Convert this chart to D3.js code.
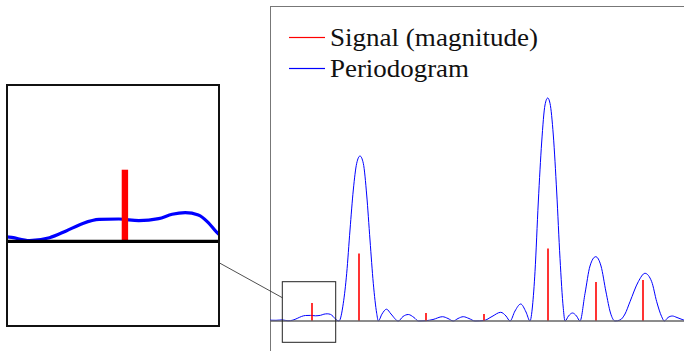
<!DOCTYPE html>
<html>
<head>
<meta charset="utf-8">
<script src="https://cdn.jsdelivr.net/npm/d3@7"></script>
<style>
  html, body { margin: 0; padding: 0; background: #fff; }
  svg { display: block; }
  text { font-family: "Liberation Serif", "DejaVu Serif", serif; }
</style>
</head>
<body>
<svg id="chart" width="684" height="351"></svg>
<script>
// ---- data (frequency bins, arbitrary power units) ----
const signalFreq = [21, 44.5, 78, 107, 139, 163, 186.5];
const signalMag  = [9, 33.75, 4, 3.5, 36.25, 19.5, 20.5];

const periodogramFreq = [0, 3, 6.1, 9, 11.5, 13.6, 15.7, 17.75, 20.25, 22.75, 25.25, 26.95, 28.6, 30.25, 31.5, 32.55,
  34.5, 36.65, 38.35, 40, 41.65, 43.35, 45, 46.65, 48.35, 50, 51.65, 53.35, 54.15,
  56, 58.25, 60.5, 64.15, 66.5, 69.15, 72, 74.25, 78, 81.5, 86.25, 89, 91.65, 94, 96.65, 99.5, 102.5,
  107, 111, 115.35, 118, 120, 122.5, 125.35, 128, 130, 131.25, 132.5, 134.15, 135.85, 137.5, 138.85, 140,
  141.65, 143.35, 145, 146.65, 147.5, 149.25, 151.25, 153.25, 155, 157.5, 160, 162.85, 165.5, 168, 170.25,
  172.5, 175, 177.5, 180, 184.15, 187.5, 190.85, 193.35, 195.85, 197.15, 199, 201.15, 203.5, 207];
const periodogramPower = [0.4, 0.35, 0.55, 0.1, 0.45, 1.3, 2.25, 2.75, 2.8, 2.6, 2.85, 3.4, 3.6, 3.3, 2.35, 1.15,
  0, 8.85, 23.85, 45.5, 65.5, 78.85, 82.5, 78.85, 63, 40.5, 18.85, 3.85, 0,
  3.5, 5.9, 3.5, 0, 2.25, 3.25, 1.75, 0, 0.15, 0.75, 2.15, 1.25, 0, 1.25, 2.15, 1.25, 0,
  0.25, 2.25, 4.35, 2.5, 0, 5, 8.5, 4.5, 0, 7.5, 24.65, 59.5, 89.5, 108, 111.5, 108.85,
  93, 64.5, 31.35, 6.35, 0, 2.5, 4, 2.5, 0, 13.75, 27.5, 32.15, 27.5, 14.5, 4,
  0, 0.5, 3.5, 9.65, 19.65, 23.85, 19.65, 9.65, 2.15, 0, 1.75, 2.5, 1.75, 0.4];

const legendLabels = ["Signal (magnitude)", "Periodogram"];
const signalColor = "#ff0000";
const periodogramColor = "#0000ff";

// zoomed region (data units)
const zoomX = [6.15, 32.85];
const zoomY = [-10.65, 19.65];

// ---- drawing ----
const svg = d3.select("#chart");
const x = d3.scaleLinear().domain([0, 207]).range([270, 684]);
const y = d3.scaleLinear().domain([0, 157]).range([321, 7]);

const pts = periodogramFreq.map((f, i) => [f, periodogramPower[i]]);
const sig = signalFreq.map((f, i) => [f, signalMag[i]]);

// main axis frame (extends beyond the visible window)
svg.append("rect")
  .attr("x", 270.5).attr("y", 6.5).attr("width", 600).attr("height", 420)
  .attr("fill", "none").style("stroke", "#777").style("stroke-width", 1);

// main periodogram
const line = d3.line().x(d => x(d[0])).y(d => y(d[1])).curve(d3.curveMonotoneX);
svg.append("path").datum(pts)
  .attr("d", line).attr("fill", "none")
  .style("stroke", periodogramColor).style("stroke-width", 1);

// signal stems
svg.append("g").selectAll("line").data(sig).join("line")
  .attr("x1", d => x(d[0])).attr("x2", d => x(d[0]))
  .attr("y1", y(0)).attr("y2", d => y(d[1]))
  .style("stroke", signalColor).style("stroke-width", 1.6);

// baseline
svg.append("line")
  .attr("x1", x(0)).attr("x2", 684).attr("y1", y(0)).attr("y2", y(0))
  .style("stroke", "#666").style("stroke-width", 1.3);

// zoom marker rectangle in main chart
svg.append("rect")
  .attr("x", x(zoomX[0])).attr("y", y(zoomY[1]))
  .attr("width", x(zoomX[1]) - x(zoomX[0])).attr("height", y(zoomY[0]) - y(zoomY[1]))
  .attr("fill", "none").style("stroke", "#222").style("stroke-width", 1);

// connector
svg.append("line")
  .attr("x1", 219).attr("y1", 262.7).attr("x2", x(zoomX[0])).attr("y2", 297.7)
  .style("stroke", "#222").style("stroke-width", 0.8);

// legend
const legend = svg.append("g");
const legY = [37.5, 68.5];
const legW = [208, 139];
const legC = [signalColor, periodogramColor];
legendLabels.forEach((lab, i) => {
  legend.append("rect")
    .attr("x", 289).attr("y", legY[i] - 0.6).attr("width", 36).attr("height", 1.2)
    .style("fill", legC[i]);
  legend.append("text")
    .attr("x", 330).attr("y", legY[i] + 8.5)
    .attr("font-size", 26).attr("fill", "#111")
    .attr("textLength", legW[i]).attr("lengthAdjust", "spacingAndGlyphs")
    .text(lab);
});

// inset
const ix = d3.scaleLinear().domain(zoomX).range([7, 219]);
const iy = d3.scaleLinear().domain(zoomY).range([326, 85]);
svg.append("clipPath").attr("id", "insetClip")
  .append("rect").attr("x", 7).attr("y", 85).attr("width", 212).attr("height", 241);
const ins = svg.append("g").attr("clip-path", "url(#insetClip)");
ins.append("rect").attr("x", 7).attr("y", 85).attr("width", 212).attr("height", 241).attr("fill", "#fff");
const iline = d3.line().x(d => ix(d[0])).y(d => iy(d[1])).curve(d3.curveMonotoneX);
ins.append("path").datum(pts)
  .attr("d", iline).attr("fill", "none")
  .style("stroke", periodogramColor).style("stroke-width", 3.2);
ins.selectAll("line.stem").data(sig).join("line").attr("class", "stem")
  .attr("x1", d => ix(d[0])).attr("x2", d => ix(d[0]))
  .attr("y1", iy(0)).attr("y2", d => iy(d[1]))
  .style("stroke", signalColor).style("stroke-width", 6.4);
ins.append("line")
  .attr("x1", 7).attr("x2", 219).attr("y1", iy(0)).attr("y2", iy(0))
  .style("stroke", "#000").style("stroke-width", 3.2);
svg.append("rect")
  .attr("x", 7).attr("y", 85).attr("width", 212).attr("height", 241)
  .attr("fill", "none").style("stroke", "#111").style("stroke-width", 2);
</script>
</body>
</html>
